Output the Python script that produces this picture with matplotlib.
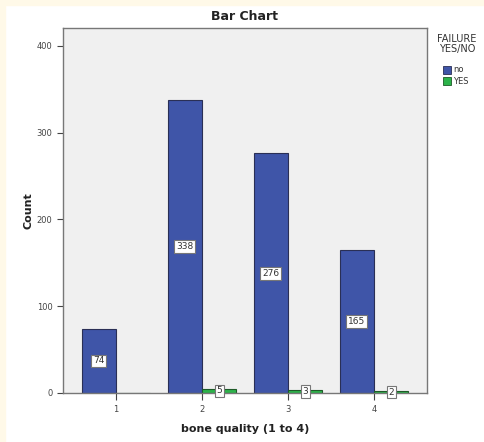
import matplotlib
matplotlib.use("Agg")
import matplotlib.pyplot as plt
import numpy as np
from matplotlib.patches import Rectangle

categories = ["1", "2", "3", "4"]
no_counts = [74, 338, 276, 165]
yes_counts = [0, 5, 3, 2]
series_names = ["no", "YES"]
legend_title = "FAILURE\nYES/NO"
yticks = [0, 100, 200, 300, 400]

blue = "#3F55A8"
green = "#2CB34A"

fig = plt.figure(figsize=(4.85, 4.42), dpi=100)
fig.patch.set_facecolor("white")
# cream strips on left and top edges
fig.patches.append(Rectangle((0, 0), 5/485, 1, transform=fig.transFigure, color="#FFF9E8", zorder=0))
fig.patches.append(Rectangle((0, 1-5/442), 1, 5/442, transform=fig.transFigure, color="#FFF9E8", zorder=0))

ax = fig.add_axes([63/485, 1-393/442, (427-63)/485, (393-28)/442])
ax.set_facecolor("#F0F0F0")

x = np.arange(1, len(categories)+1)
w = 0.4
ax.bar(x - w/2, no_counts, w, color=blue, edgecolor="#2A2F55", linewidth=0.8, label=series_names[0], zorder=2)
ax.bar(x + w/2, yes_counts, w, color=green, edgecolor="#1E5A28", linewidth=0.8, label=series_names[1], zorder=2)

box = dict(boxstyle="square,pad=0.2", fc="white", ec="#777777", lw=0.8)
for xi, v in zip(x, no_counts):
    if v > 0:
        ax.text(xi - w/2, v/2, str(v), ha="center", va="center", fontsize=6.5, color="#333333", bbox=box, zorder=4)
for xi, v in zip(x, yes_counts):
    if v > 0:
        ax.text(xi + w/2, v/2, str(v), ha="center", va="center", fontsize=6.5, color="#333333", bbox=box, zorder=4)

ax.set_xlim(0.384, 4.616)
ax.set_ylim(0, 420.5)
ax.set_xticks(x)
ax.set_xticklabels(categories)
ax.set_yticks(yticks)
ax.tick_params(axis="both", labelsize=6, colors="#444444", length=4, width=0.8)
ax.tick_params(axis="x", length=5)
for s in ax.spines.values():
    s.set_color("#777777")
    s.set_linewidth(1.0)

ax.set_xlabel("bone quality (1 to 4)", fontsize=8, fontweight="bold", color="#222222", labelpad=7)
ax.set_ylabel("Count", fontsize=8, fontweight="bold", color="#222222", labelpad=2)
fig.text(245/485, 1-16/442, "Bar Chart", ha="center", va="center", fontsize=9, fontweight="bold", color="#222222")

fig.text(457/485, 1-44/442, legend_title, ha="center", va="center", fontsize=7, color="#333333", linespacing=0.95)
for i, (name, c, ec) in enumerate(zip(series_names, [blue, green], ["#2A2F55", "#1E5A28"])):
    yc = 1-(70+11*i)/442
    fig.patches.append(Rectangle((443/485, yc-4/442), 8/485, 8/442, transform=fig.transFigure, fc=c, ec=ec, lw=0.6))
    fig.text(453/485, yc, name, ha="left", va="center", fontsize=6, color="#333333")

fig.savefig("out.png", dpi=100)
